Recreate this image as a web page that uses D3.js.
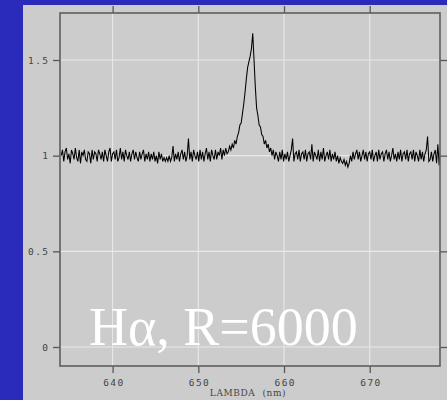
<!DOCTYPE html>
<html>
<head>
<meta charset="utf-8">
<script src="https://cdn.jsdelivr.net/npm/d3@7"></script>
<style>
  html, body { margin: 0; padding: 0; background: #2b2bbb; }
  svg { display: block; }
</style>
</head>
<body>
<svg id="chart" width="447" height="400"></svg>
<script>
// ---- data ----
const lambdaStart = 634.0;   // nm, first sample
const lambdaStep = 0.15;     // nm between samples
const flux = [
  1.00,1.03,0.97,1.02,1.04,0.98,1.01,0.96,1.03,1.01,
  0.98,1.04,0.99,0.97,1.03,0.96,1.02,1.00,1.03,0.98,
  0.97,1.02,1.01,0.96,1.03,0.98,1.02,1.01,0.97,1.03,
  1.01,0.98,1.02,0.97,1.03,1.00,0.97,1.02,1.04,0.97,
  1.01,1.02,0.98,1.03,0.97,0.99,1.04,0.98,1.02,0.97,
  1.03,1.00,0.98,1.02,0.97,1.01,1.03,0.98,1.02,0.99,
  0.97,1.02,0.98,1.01,1.03,0.97,1.01,0.98,1.02,0.97,
  1.01,0.98,1.02,0.97,1.00,0.96,1.02,0.98,1.01,0.97,
  0.99,0.97,0.99,0.97,1.00,0.97,0.99,1.05,0.97,1.01,
  0.98,1.02,0.97,1.01,1.03,0.98,1.02,0.97,1.00,1.09,
  0.98,1.02,0.97,1.03,1.00,0.98,1.02,0.97,1.03,0.98,
  1.02,0.97,1.01,1.04,0.98,1.02,0.97,1.03,1.00,0.98,
  1.03,0.98,1.02,1.00,1.04,0.98,1.03,1.00,1.04,1.01,
  1.02,1.05,1.03,1.06,1.04,1.08,1.06,1.10,1.12,1.16,
  1.17,1.22,1.27,1.33,1.40,1.46,1.49,1.52,1.56,1.64,
  1.50,1.36,1.25,1.21,1.16,1.15,1.11,1.10,1.06,1.08,
  1.04,1.06,1.02,1.04,1.00,1.03,0.98,1.02,1.00,0.97,
  1.02,0.98,1.03,0.97,1.01,0.98,1.02,0.97,1.00,1.03,
  1.09,0.97,1.01,1.02,0.98,1.03,0.97,1.01,1.02,0.98,
  1.03,0.97,1.01,1.02,0.98,1.06,0.97,1.02,1.00,0.98,
  1.03,0.97,1.02,0.98,1.04,0.97,1.00,1.02,0.98,1.03,
  0.97,1.01,0.98,1.02,0.97,1.00,0.96,0.99,0.97,0.96,
  0.98,0.95,0.97,0.94,0.96,1.00,0.97,1.02,0.98,1.01,
  1.03,0.98,1.02,0.97,1.00,1.03,0.98,1.02,0.97,1.01,
  1.02,0.98,1.03,0.97,1.00,1.02,0.97,1.03,0.98,1.01,
  1.02,0.97,1.01,1.03,0.98,1.02,0.97,1.00,1.04,0.98,
  1.01,0.97,1.02,0.98,1.03,0.97,1.01,1.02,0.98,1.03,
  0.97,1.01,1.02,0.98,1.03,0.97,1.02,1.00,0.97,1.03,
  0.98,1.02,0.97,1.01,1.03,1.10,0.97,0.98,1.02,0.97,
  1.01,1.03,0.96,1.06,0.95,1.02
];
const xTicks = [640, 650, 660, 670];
const yTicks = [0, 0.5, 1, 1.5];
const yTickLabels = ["0", "0.5", "1", "1.5"];
const xLabel = "LAMBDA  (nm)";
const titleText = "Hα, R=6000";

// ---- layout ----
const W = 447, H = 400;
const plot = { left: 60, right: 440, top: 13, bottom: 366 };

const svg = d3.select("#chart");

svg.append("rect").attr("x", 0).attr("y", 0).attr("width", W).attr("height", H).attr("fill", "#2b2bbb");
svg.append("rect").attr("x", 23).attr("y", 5).attr("width", W - 23).attr("height", H - 5).attr("fill", "#cccccc");

const x = d3.scaleLinear().domain([633.86, 678.2]).range([plot.left, plot.right]);
const y = d3.scaleLinear().domain([0, 1.5]).range([347, 60]);

const data = flux.map((v, i) => ({ l: lambdaStart + lambdaStep * i, v }));

// grid
const grid = svg.append("g");
grid.selectAll("line.vx").data(xTicks).join("line")
  .attr("x1", d => x(d)).attr("x2", d => x(d))
  .attr("y1", plot.top).attr("y2", plot.bottom)
  .attr("stroke", "#e8e8e8").attr("stroke-width", 1.1);
grid.selectAll("line.hy").data(yTicks).join("line")
  .attr("y1", d => y(d)).attr("y2", d => y(d))
  .attr("x1", plot.left).attr("x2", plot.right)
  .attr("stroke", "#e8e8e8").attr("stroke-width", 1.1);

// big label
svg.append("text")
  .attr("x", 89).attr("y", 345)
  .attr("font-family", "'Liberation Serif', 'Times New Roman', serif")
  .attr("font-size", 54)
  .attr("fill", "#ffffff")
  .text(titleText);

// clip
svg.append("clipPath").attr("id", "clip")
  .append("rect").attr("x", plot.left).attr("y", plot.top)
  .attr("width", plot.right - plot.left).attr("height", plot.bottom - plot.top);

// spectrum line
svg.append("path")
  .datum(data)
  .attr("clip-path", "url(#clip)")
  .attr("fill", "none")
  .attr("stroke", "#000000")
  .attr("stroke-width", 1.05)
  .attr("stroke-linejoin", "miter")
  .attr("d", d3.line().x(d => x(d.l)).y(d => y(d.v)));

// axes (ticks on all four sides, outward)
const tickColor = "#585858";
const labelFont = "'DejaVu Sans Mono', monospace";

function styleAxis(g) {
  g.select(".domain").remove();
  g.selectAll(".tick line").attr("stroke", tickColor).attr("stroke-width", 1.3);
  g.selectAll("text")
    .attr("fill", "#454545")
    .attr("font-family", labelFont)
    .attr("font-size", 9.5)
    .style("letter-spacing", "1.4px");
}

svg.append("g").attr("transform", `translate(0,${plot.bottom})`)
  .call(d3.axisBottom(x).tickValues(xTicks).tickSize(7).tickPadding(6).tickFormat(d3.format("d")))
  .call(styleAxis)
  .call(g => g.selectAll("text").attr("dx", "0.7"));

svg.append("g").attr("transform", `translate(0,${plot.top})`)
  .call(d3.axisTop(x).tickValues(xTicks).tickSize(7).tickFormat(""))
  .call(styleAxis);

svg.append("g").attr("transform", `translate(${plot.left},0)`)
  .call(d3.axisLeft(y).tickValues(yTicks).tickSize(7).tickPadding(3.6)
    .tickFormat((d, i) => yTickLabels[i]))
  .call(styleAxis);

svg.append("g").attr("transform", `translate(${plot.right},0)`)
  .call(d3.axisRight(y).tickValues(yTicks).tickSize(7).tickFormat(""))
  .call(styleAxis);

// frame
svg.append("rect")
  .attr("x", plot.left).attr("y", plot.top)
  .attr("width", plot.right - plot.left).attr("height", plot.bottom - plot.top)
  .attr("fill", "none").attr("stroke", "#5e5e5e").attr("stroke-width", 1.6);

// x axis title
svg.append("text")
  .attr("x", 248).attr("y", 396)
  .attr("text-anchor", "middle")
  .attr("font-family", "'DejaVu Serif', serif")
  .attr("font-size", 9)
  .style("letter-spacing", "0.6px")
  .style("white-space", "pre")
  .attr("fill", "#454545")
  .text(xLabel);
</script>
</body>
</html>
